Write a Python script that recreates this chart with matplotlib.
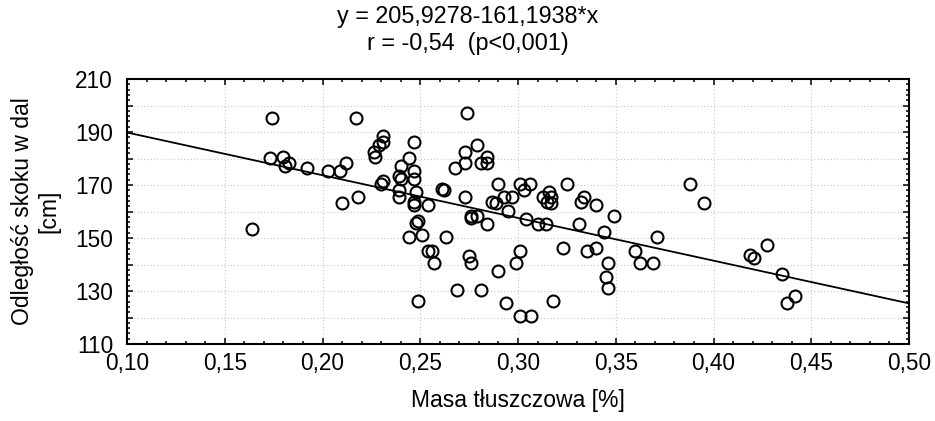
import numpy as np
import matplotlib
matplotlib.use("Agg")
import matplotlib.pyplot as plt
from matplotlib.ticker import MultipleLocator, FixedLocator, FuncFormatter

plt.rcParams['font.family'] = ['Liberation Sans', 'DejaVu Sans']

# data
fat_mass = [0.164, 0.174, 0.173, 0.180, 0.183, 0.181, 0.192, 0.203, 0.209, 0.212,
            0.217, 0.210, 0.218, 0.2265, 0.227, 0.229, 0.231, 0.231, 0.230, 0.231,
            0.247, 0.244, 0.240, 0.239, 0.240, 0.247, 0.247, 0.239, 0.239, 0.248,
            0.247, 0.247, 0.254, 0.248, 0.249, 0.251, 0.244, 0.254, 0.256, 0.257,
            0.249, 0.261, 0.262, 0.263, 0.269, 0.274, 0.273, 0.273, 0.268, 0.279,
            0.281, 0.284, 0.284, 0.273, 0.276, 0.276, 0.279, 0.284, 0.275, 0.276,
            0.281, 0.290, 0.290, 0.2865, 0.289, 0.293, 0.297, 0.295, 0.294, 0.301,
            0.306, 0.303, 0.304, 0.310, 0.3145, 0.313, 0.316, 0.317, 0.315, 0.317,
            0.325, 0.301, 0.299, 0.301, 0.3065, 0.318, 0.323, 0.332, 0.334, 0.340,
            0.331, 0.344, 0.349, 0.3355, 0.340, 0.346, 0.345, 0.346, 0.360, 0.3625,
            0.369, 0.371, 0.388, 0.395, 0.4185, 0.4205, 0.4275, 0.435, 0.4415, 0.4375]
jump_cm = [153.3, 195.3, 180.3, 180.4, 178.3, 177.2, 176.4, 175.4, 175.4, 178.2,
           195.3, 163.3, 165.3, 182.6, 180.4, 185.1, 188.4, 186.3, 170.5, 171.5,
           186.3, 180.3, 177.3, 173.5, 172.3, 175.4, 172.3, 168.2, 165.3, 167.5,
           163.5, 162.5, 162.5, 155.7, 156.5, 151.3, 150.3, 145.2, 145.2, 140.4,
           126.3, 168.5, 168.2, 150.3, 130.4, 197.3, 182.6, 178.3, 176.4, 185.1,
           178.3, 180.6, 178.3, 165.3, 158.4, 157.5, 158.4, 155.4, 143.3, 140.4,
           130.4, 170.4, 137.4, 163.4, 163.3, 165.3, 165.3, 160.3, 125.4, 170.4,
           170.4, 168.2, 157.3, 155.4, 155.4, 165.3, 167.4, 165.3, 163.5, 163.3,
           170.4, 145.2, 140.4, 120.4, 120.4, 126.3, 146.2, 163.5, 165.3, 162.3,
           155.4, 152.3, 158.4, 145.2, 146.2, 140.4, 135.4, 131.2, 145.2, 140.4,
           140.4, 150.4, 170.4, 163.3, 143.6, 142.5, 147.4, 136.4, 128.2, 125.4]
intercept = 205.9278
slope = -161.1938
x_ticks = [0.10, 0.15, 0.20, 0.25, 0.30, 0.35, 0.40, 0.45, 0.50]
y_ticks = [110, 130, 150, 170, 190, 210]
title_text = "y = 205,9278-161,1938*x\nr = -0,54  (p<0,001)"
x_label = "Masa tłuszczowa [%]"
y_label = "Odległość skoku w dal\n[cm]"

W, H = 935, 421
fig = plt.figure(figsize=(W / 100, H / 100), dpi=100)
L, R, T, B = 127, 909, 79, 344
ax = fig.add_axes([L / W, 1 - B / H, (R - L) / W, (B - T) / H])

ax.set_xlim(0.10, 0.50)
ax.set_ylim(110, 210)

xl = np.array([0.10, 0.50])
ax.plot(xl, intercept + slope * xl, color='black', lw=1.3, zorder=3)
ax.plot(fat_mass, jump_cm, linestyle='none', marker='o', ms=8.6, mfc='none',
        mec='black', mew=1.5, zorder=4)

ax.xaxis.set_major_locator(FixedLocator(x_ticks))
ax.xaxis.set_minor_locator(MultipleLocator(0.01))
ax.xaxis.set_major_formatter(FuncFormatter(lambda v, p: f"{v:.2f}".replace('.', ',')))
ax.yaxis.set_major_locator(MultipleLocator(10))
ax.yaxis.set_minor_locator(MultipleLocator(2))
ax.yaxis.set_major_formatter(FuncFormatter(
    lambda v, p: f"{int(round(v))}" if int(round(v)) in y_ticks else ""))

ax.grid(True, which='major', color='#c8c8c8', linestyle=(0, (1, 2)), lw=0.8)
ax.set_axisbelow(True)

for s in ax.spines.values():
    s.set_linewidth(1.5)
ax.tick_params(which='both', direction='in', top=True, right=True,
               labelsize=16.3, colors='black', width=1.1)
ax.tick_params(axis='x', which='major', length=4, pad=6)
ax.tick_params(axis='x', which='minor', length=2.2)
ax.tick_params(axis='y', which='major', length=4, pad=10)
ax.tick_params(axis='y', which='minor', length=2.2)

fig.text(0.5, 1 - 30 / H, title_text, ha='center', va='center', fontsize=16.8,
         linespacing=1.22)
fig.text((L + R) / 2 / W, 1 - 401 / H, x_label, ha='center', va='center', fontsize=16.5)
fig.text(36 / W, 1 - (T + B) / 2 / H, y_label, ha='center', va='center',
         rotation=90, fontsize=16.5, linespacing=1.2)

fig.savefig('out.png', dpi=100)
